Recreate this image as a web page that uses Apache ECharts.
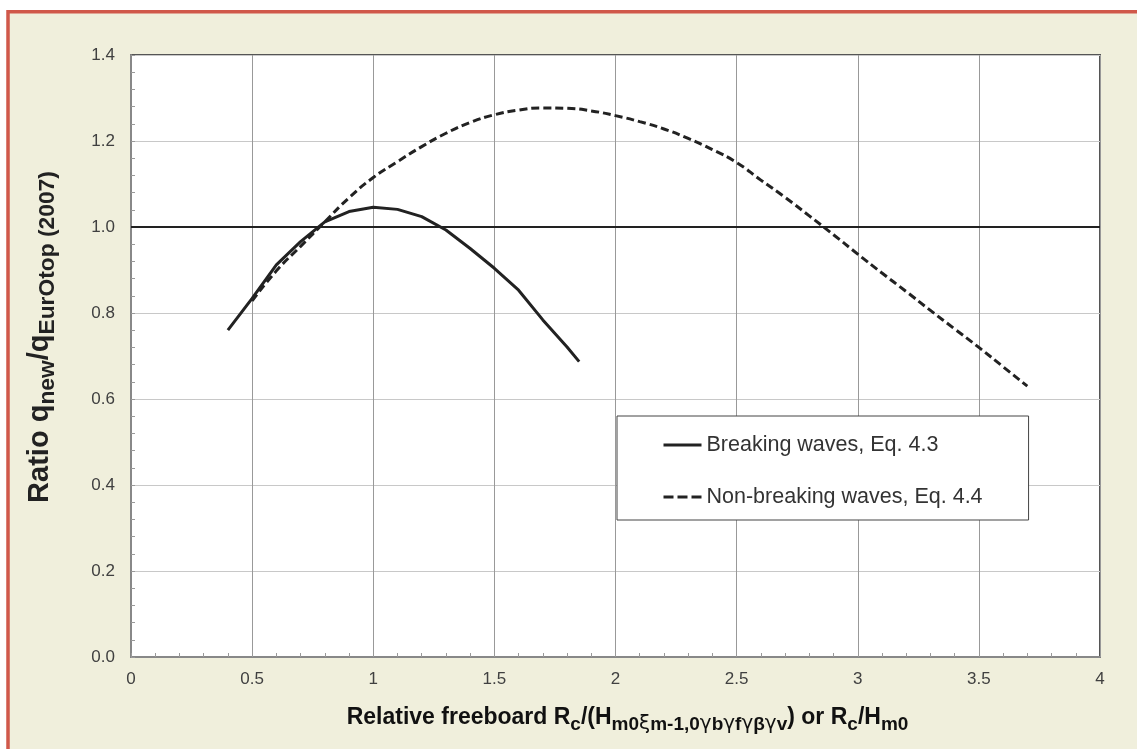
<!DOCTYPE html>
<html><head><meta charset="utf-8">
<script src="https://cdn.jsdelivr.net/npm/echarts@6/dist/echarts.min.js"></script>
<style>html,body{margin:0;padding:0;background:#fff}#c{width:1137px;height:749px}</style>
</head><body><div id="c"></div>
<script>
// ---- data ----
const breakingName = 'Breaking waves, Eq. 4.3';
const nonBreakingName = 'Non-breaking waves, Eq. 4.4';
const breakingX = [0.4, 0.5, 0.6, 0.7, 0.8, 0.9, 1.0, 1.1, 1.2, 1.3, 1.4, 1.5, 1.6, 1.7, 1.8, 1.85];
const breakingY = [0.760, 0.834, 0.912, 0.966, 1.012, 1.036, 1.046, 1.041, 1.024, 0.993, 0.950, 0.904, 0.853, 0.784, 0.721, 0.687];
const nonBreakingX = [0.5, 0.6, 0.7, 0.8, 0.9, 1.0, 1.1, 1.2, 1.3, 1.4, 1.5, 1.6, 1.7, 1.8, 1.9, 2.0, 2.1, 2.2, 2.3, 2.4, 2.5, 2.6, 2.7, 2.8, 2.9, 3.0, 3.1, 3.2, 3.3, 3.4, 3.5, 3.6, 3.7];
const nonBreakingY = [0.828, 0.898, 0.955, 1.012, 1.068, 1.115, 1.152, 1.187, 1.218, 1.243, 1.261, 1.272, 1.277, 1.276, 1.270, 1.259, 1.245, 1.228, 1.206, 1.180, 1.150, 1.109, 1.069, 1.026, 0.982, 0.937, 0.893, 0.850, 0.806, 0.763, 0.720, 0.675, 0.630];
const referenceX = [0, 4];
const referenceY = [1.0, 1.0];
const xTicks = { min: 0, max: 4, interval: 0.5 };
const yTicks = { min: 0, max: 1.4, interval: 0.2 };

const zip = (xs, ys) => xs.map((x, i) => [x, ys[i]]);
const FONT = '"Liberation Sans", Arial, sans-serif';

const chart = echarts.init(document.getElementById('c'), null, { renderer: 'canvas' });
chart.setOption({
  animation: false,
  backgroundColor: '#ffffff',
  textStyle: { fontFamily: FONT },
  graphic: [{
    type: 'rect', z: -100, silent: true,
    shape: { x: 8, y: 11.75, width: 1300, height: 900 },
    style: { fill: '#F0EFDC', stroke: '#D0584A', lineWidth: 3.5 }
  }],
  grid: {
    left: 131, top: 55, right: 37, bottom: 92,
    show: true, backgroundColor: '#ffffff', borderColor: '#555', borderWidth: 2
  },
  legend: {
    data: [
      { name: breakingName },
      { name: nonBreakingName, lineStyle: { type: [10, 4] } }
    ],
    orient: 'vertical', left: 617, top: 416,
    padding: [18, 46, 12, 45],
    itemWidth: 38, itemHeight: 14, itemGap: 30,
    backgroundColor: '#ffffff', borderColor: '#444', borderWidth: 1, borderRadius: 0,
    itemStyle: { color: 'transparent', borderColor: 'transparent', borderWidth: 0 },
    lineStyle: { width: 3, color: '#222', opacity: 1 },
    textStyle: { fontFamily: FONT, fontSize: 21.5, color: '#333' }
  },
  xAxis: {
    type: 'value', min: xTicks.min, max: xTicks.max, interval: xTicks.interval,
    axisLine: { show: true, onZero: false, lineStyle: { color: '#888', width: 2 } },
    axisTick: { show: true, inside: true, length: 4, lineStyle: { color: '#999' } },
    minorTick: { show: true, splitNumber: 5, length: 4, lineStyle: { color: '#999' } },
    splitLine: { show: true, lineStyle: { color: '#999', width: 1 } },
    axisLabel: { fontFamily: FONT, fontSize: 17, color: '#404040', margin: 14 },
    nameLocation: 'middle', nameGap: 45,
    name: '{b|Relative freeboard R}{s|c}{b|/(H}{s|m0}{g|ξ}{s|m-1,0}{g|γ}{s|b}{g|γ}{s|f}{g|γ}{s|β}{g|γ}{s|v}{b|) or R}{s|c}{b|/H}{s|m0}',
    nameTextStyle: {
      padding: [0, 0, 0, 24],
      rich: {
        b: { fontFamily: FONT, fontSize: 23, fontWeight: 'bold', color: '#111', lineHeight: 32, verticalAlign: 'middle' },
        g: { fontFamily: '"DejaVu Sans", sans-serif', fontSize: 20, fontWeight: 'normal', color: '#111', lineHeight: 27, verticalAlign: 'bottom' },
        s: { fontFamily: FONT, fontSize: 19, fontWeight: 'bold', color: '#111', lineHeight: 20, verticalAlign: 'bottom' }
      }
    }
  },
  yAxis: {
    type: 'value', min: yTicks.min, max: yTicks.max, interval: yTicks.interval,
    axisLine: { show: true, onZero: false, lineStyle: { color: '#888', width: 2 } },
    axisTick: { show: true, inside: true, length: 4, lineStyle: { color: '#999' } },
    minorTick: { show: true, splitNumber: 5, length: 4, lineStyle: { color: '#999' } },
    splitLine: { show: true, lineStyle: { color: '#c8c8c8', width: 1 } },
    axisLabel: { fontFamily: FONT, fontSize: 17, color: '#404040', margin: 16, formatter: v => v.toFixed(1) },
    nameLocation: 'middle', nameGap: 72,
    name: '{b|Ratio q}{s|new}{b|/q}{s|EurOtop (2007)}',
    nameTextStyle: {
      padding: [0, 0, 0, 38],
      rich: {
        b: { fontFamily: FONT, fontSize: 29, fontWeight: 'bold', color: '#222', lineHeight: 38, verticalAlign: 'middle' },
        s: { fontFamily: FONT, fontSize: 22.8, fontWeight: 'bold', color: '#222', lineHeight: 23, verticalAlign: 'bottom' }
      }
    }
  },
  series: [
    {
      name: 'Reference', type: 'line', data: zip(referenceX, referenceY),
      symbol: 'none', silent: true, z: 3,
      lineStyle: { color: '#222', width: 2 }
    },
    {
      name: breakingName, type: 'line', data: zip(breakingX, breakingY),
      symbol: 'none', smooth: false, z: 4,
      lineStyle: { color: '#222', width: 3, type: 'solid' },
      itemStyle: { color: '#222' }
    },
    {
      name: nonBreakingName, type: 'line', data: zip(nonBreakingX, nonBreakingY),
      symbol: 'none', smooth: true, z: 4,
      lineStyle: { color: '#222', width: 3, type: [8, 4] },
      itemStyle: { color: '#222' }
    }
  ]
});
</script>
</body></html>
